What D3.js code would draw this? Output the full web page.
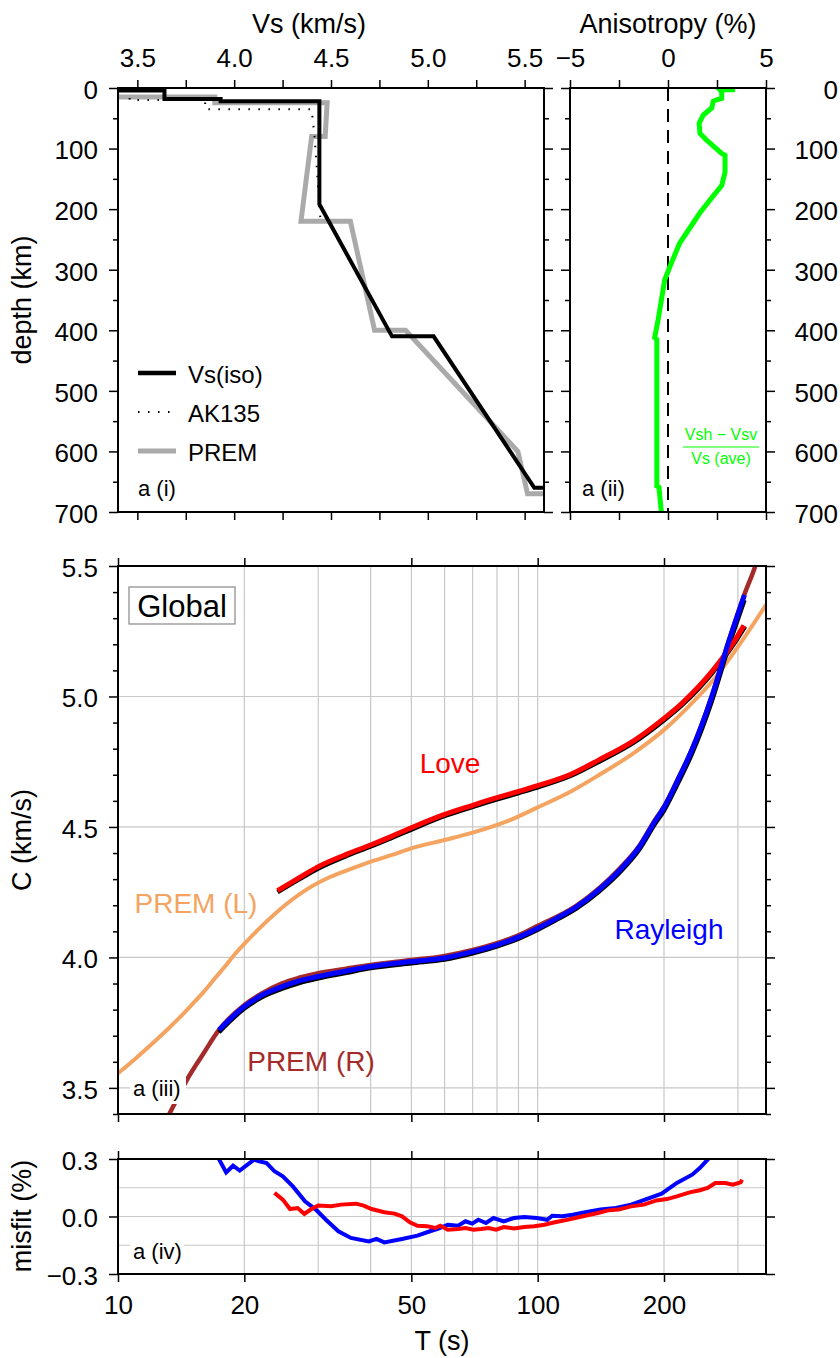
<!DOCTYPE html>
<html>
<head>
<meta charset="utf-8">
<script src="https://cdnjs.cloudflare.com/ajax/libs/d3/7.8.5/d3.min.js"></script>
<style>
  body { margin: 0; background: #fff; }
  svg { display: block; }
  text { font-family: "Liberation Sans", Arial, Helvetica, sans-serif; }
</style>
</head>
<body>
<div id="chart"></div>
<script>
// ---------- data ----------
// a (i): shear velocity profiles, [Vs (km/s), depth (km)]
var vsIso = [[3.30,0],[3.30,4],[3.64,4],[3.64,18],[3.93,18],[3.93,22],[4.44,22],[4.44,192],[4.815,410],[5.03,410],[5.55,660],[5.70,660]];
var ak135 = [[3.46,0],[3.46,20],[3.85,20],[3.85,35],[4.40,35],[4.415,80],[4.445,215]];
var prem  = [[3.20,3],[3.20,15],[3.90,15],[3.90,24.4],[4.48,24.4],[4.47,80],[4.40,80],[4.345,220],[4.60,220],[4.725,400],[4.885,400],[5.465,600],[5.515,670],[5.95,670]];

// a (ii): radial anisotropy, [% , depth (km)]
var aniso = [[3.42,3],[2.65,3],[2.74,6],[2.74,17],[2.48,19.5],[2.31,22],[2.23,33],[1.80,44.5],[1.59,58],[1.63,75],[1.97,86],[2.74,108],[2.91,111],[2.91,139],[2.74,161],[2.31,178],[1.63,206],[0.60,256],[0.17,289],[-0.17,317],[-0.51,384],[-0.68,412],[-0.57,415],[-0.57,657],[-0.46,659],[-0.34,700]];

// a (iii): phase velocity dispersion, [T (s), C (km/s)]
var love = [[24,4.256],[27,4.305],[30,4.348],[35,4.395],[40,4.431],[45,4.465],[50,4.497],[60,4.548],[70,4.583],[80,4.612],[90,4.636],[100,4.658],[120,4.702],[140,4.757],[170,4.832],[200,4.916],[220,4.972],[242,5.038],[260,5.095],[279,5.159],[295,5.215],[310,5.272]];
var loveFit = [[24,4.250],[27,4.299],[30,4.341],[35,4.389],[40,4.425],[45,4.459],[50,4.490],[60,4.542],[70,4.577],[80,4.606],[90,4.630],[100,4.652],[120,4.696],[140,4.750],[170,4.825],[200,4.909],[220,4.965],[242,5.031],[260,5.088],[279,5.152],[295,5.207],[312,5.268]];
var rayleigh = [[17.4,3.722],[20,3.812],[22,3.855],[24.6,3.888],[27,3.910],[30,3.927],[35,3.948],[40,3.965],[50,3.984],[60,3.998],[70,4.022],[80,4.048],[90,4.078],[100,4.112],[110,4.147],[124,4.195],[140,4.260],[157,4.335],[175,4.425],[190,4.520],[200,4.575],[215,4.675],[233,4.795],[260,5.000],[286,5.216],[311,5.389]];
var rayleighFit = [[17.4,3.714],[20,3.804],[22,3.847],[24.6,3.880],[27,3.902],[30,3.920],[35,3.941],[40,3.959],[50,3.978],[60,3.992],[70,4.016],[80,4.042],[90,4.072],[100,4.106],[110,4.141],[124,4.189],[140,4.253],[157,4.327],[175,4.416],[190,4.510],[200,4.563],[215,4.662],[233,4.780],[260,4.983],[286,5.198],[311,5.370]];
var premLove = [[10,3.556],[11,3.612],[12,3.666],[13,3.718],[14,3.768],[15,3.819],[16,3.868],[17,3.919],[18,3.966],[19,4.013],[20,4.052],[22,4.120],[25,4.200],[28,4.258],[32,4.308],[36,4.340],[40,4.367],[45,4.393],[50,4.418],[60,4.450],[70,4.478],[85,4.523],[100,4.575],[120,4.636],[140,4.699],[170,4.785],[200,4.872],[230,4.965],[266,5.076],[300,5.190],[350,5.351]];
var premRayleigh = [[13.25,3.400],[14,3.475],[14.74,3.543],[16,3.633],[17.4,3.722],[20,3.818],[22,3.862],[24.6,3.901],[27,3.922],[30,3.940],[35,3.957],[40,3.971],[50,3.990],[60,4.006],[70,4.029],[80,4.055],[90,4.085],[100,4.121],[124,4.200],[157,4.342],[175,4.430],[190,4.525],[200,4.578],[215,4.678],[233,4.797],[260,5.002],[286,5.218],[311,5.392],[330,5.500],[340,5.570]];

// a (iv): misfit, [T (s), misfit (%)]
var misfitRayleigh = [[17.3,0.31],[18.1,0.23],[18.8,0.265],[19.5,0.24],[20.2,0.265],[21.1,0.297],[21.7,0.288],[22.6,0.279],[23.6,0.236],[24.7,0.21],[26.1,0.157],[27.9,0.079],[29.6,0.036],[31.3,-0.017],[33.5,-0.077],[35.9,-0.112],[39.6,-0.13],[41.3,-0.117],[43.1,-0.135],[47.5,-0.117],[51.7,-0.1],[55.4,-0.077],[57.8,-0.065],[61.1,-0.043],[64.6,-0.048],[67.3,-0.025],[69.8,-0.037],[72.2,-0.017],[75.3,-0.034],[78.5,-0.008],[83,-0.025],[87.8,-0.008],[92.9,-0.003],[99.6,-0.008],[105.4,-0.017],[108.3,0.004],[114.6,0.001],[121.2,0.009],[129.8,0.022],[141.2,0.036],[153.5,0.044],[167,0.062],[181.6,0.091],[197.4,0.119],[214.6,0.175],[233.4,0.218],[243.4,0.253],[254.1,0.297],[260,0.32]];
var misfitLove = [[23.6,0.123],[24.7,0.088],[25.7,0.039],[26.8,0.044],[27.8,0.013],[28.9,0.039],[30,0.057],[32.2,0.053],[34,0.062],[36.9,0.067],[38.5,0.057],[40.2,0.039],[43.1,0.022],[45.6,0.015],[47.5,0.001],[49.6,-0.03],[51.7,-0.048],[54.6,-0.051],[57,-0.06],[58.6,-0.048],[61.1,-0.069],[64.6,-0.065],[67.3,-0.06],[70.3,-0.069],[73.3,-0.065],[76.4,-0.06],[79.6,-0.069],[83,-0.055],[87.8,-0.062],[92.9,-0.055],[98.2,-0.051],[103.8,-0.043],[109.8,-0.03],[116.1,-0.02],[122.8,-0.008],[129.8,0.004],[139.2,0.018],[147.2,0.032],[155.6,0.036],[167,0.053],[179.1,0.062],[191.9,0.084],[203.2,0.091],[214.6,0.105],[230.3,0.126],[243.4,0.137],[254.1,0.149],[265,0.175],[280,0.175],[291.9,0.166],[304.5,0.178],[307,0.192]];

// ticks
var vsTicks = [3.5, 4.0, 4.5, 5.0, 5.5],
    vsMinor = [3.75, 4.25, 4.75, 5.25],
    depthTicks = [0, 100, 200, 300, 400, 500, 600, 700],
    depthMinor = [50, 150, 250, 350, 450, 550, 650],
    anisoTicks = [-5, 0, 5],
    anisoMinor = [-2.5, 2.5],
    periodTicks = [10, 20, 50, 100, 200],
    periodGrid = [20, 30, 40, 50, 60, 70, 80, 90, 100, 200, 300],
    cTicks = [3.5, 4.0, 4.5, 5.0, 5.5],
    cMinor = [3.4, 3.6, 3.7, 3.8, 3.9, 4.1, 4.2, 4.3, 4.4, 4.6, 4.7, 4.8, 4.9, 5.1, 5.2, 5.3, 5.4],
    cGrid = [3.5, 4.0, 4.5, 5.0],
    misfitTicks = [-0.3, 0.0, 0.3],
    misfitGrid = [-0.15, 0.0, 0.15];

// ---------- layout ----------
var width = 840,
    height = 1358;

var fontFamily = "Liberation Sans, Arial, Helvetica, sans-serif",
    tickFont = 26;

var svg = d3.select("#chart")
    .append("svg")
    .attr("width", width)
    .attr("height", height);

// scales
var vsX = d3.scaleLinear().domain([3.4, 5.6]).range([118, 544]),
    depthY = d3.scaleLinear().domain([0, 700]).range([88, 512]),
    anisoX = d3.scaleLinear().domain([-5, 5]).range([570, 766]),
    periodX = d3.scaleLog().domain([10, 350]).range([118, 766]),
    cY = d3.scaleLinear().domain([3.4, 5.5]).range([1114, 566]),
    misfitY = d3.scaleLinear().domain([-0.3, 0.3]).range([1274, 1159]);

// clip paths, one per panel
var defs = svg.append("defs");
function addClip(id, x0, x1, y0, y1) {
    defs.append("clipPath").attr("id", id)
        .append("rect")
        .attr("x", x0).attr("y", y0)
        .attr("width", x1 - x0).attr("height", y1 - y0);
}
addClip("clipVs", vsX.range()[0], vsX.range()[1], depthY.range()[0], depthY.range()[1]);
addClip("clipAniso", anisoX.range()[0], anisoX.range()[1], depthY.range()[0], depthY.range()[1]);
addClip("clipC", periodX.range()[0], periodX.range()[1], cY.range()[1], cY.range()[0]);
addClip("clipMisfit", periodX.range()[0], periodX.range()[1], misfitY.range()[1], misfitY.range()[0]);

// ---------- helpers ----------
function addAxis(axis, tx, ty) {
    var g = svg.append("g")
        .attr("transform", "translate(" + tx + "," + ty + ")")
        .call(axis);
    g.attr("font-family", fontFamily).attr("font-size", tickFont);
    g.select(".domain").remove();
    g.selectAll(".tick line").attr("stroke", "#000").attr("stroke-width", 1.5);
    g.selectAll(".tick text").attr("fill", "#000");
    return g;
}

function noLabel() { return ""; }

function frame(xs, ys) {
    svg.append("rect")
        .attr("x", xs.range()[0])
        .attr("y", Math.min(ys.range()[0], ys.range()[1]))
        .attr("width", xs.range()[1] - xs.range()[0])
        .attr("height", Math.abs(ys.range()[1] - ys.range()[0]))
        .attr("fill", "none")
        .attr("stroke", "#000")
        .attr("stroke-width", 2);
}

function gridLines(xs, ys, xVals, yVals) {
    var g = svg.append("g").attr("class", "grid");
    g.selectAll(".gx").data(xVals).enter().append("line")
        .attr("x1", function(d) { return xs(d); })
        .attr("x2", function(d) { return xs(d); })
        .attr("y1", ys.range()[0])
        .attr("y2", ys.range()[1])
        .attr("stroke", "#c8c8c8").attr("stroke-width", 1.2);
    g.selectAll(".gy").data(yVals).enter().append("line")
        .attr("x1", xs.range()[0])
        .attr("x2", xs.range()[1])
        .attr("y1", function(d) { return ys(d); })
        .attr("y2", function(d) { return ys(d); })
        .attr("stroke", "#c8c8c8").attr("stroke-width", 1.2);
}

function drawLine(data, line, clip, color, w, dash) {
    var p = svg.append("path")
        .datum(data)
        .attr("clip-path", "url(#" + clip + ")")
        .attr("fill", "none")
        .attr("stroke", color)
        .attr("stroke-width", w)
        .attr("d", line);
    if (dash) p.attr("stroke-dasharray", dash);
    return p;
}

function label(txt, x, y, size, color, anchor) {
    return svg.append("text")
        .attr("x", x).attr("y", y)
        .attr("font-size", size)
        .attr("fill", color || "#000")
        .attr("text-anchor", anchor || "start")
        .text(txt);
}

function yTitle(txt, cy) {
    svg.append("text")
        .attr("transform", "translate(31," + cy + ") rotate(-90)")
        .attr("text-anchor", "middle")
        .attr("font-size", 27)
        .text(txt);
}

// line generators
var profileLine = d3.line()
    .x(function(d) { return vsX(d[0]); })
    .y(function(d) { return depthY(d[1]); });
var anisoLine = d3.line()
    .x(function(d) { return anisoX(d[0]); })
    .y(function(d) { return depthY(d[1]); });
var dispLine = d3.line()
    .x(function(d) { return periodX(d[0]); })
    .y(function(d) { return cY(d[1]); })
    .curve(d3.curveMonotoneX);
var misfitLine = d3.line()
    .x(function(d) { return periodX(d[0]); })
    .y(function(d) { return misfitY(d[1]); });

// ---------- a (i) velocity profile ----------
drawLine(prem, profileLine, "clipVs", "#aaaaaa", 5);
drawLine(ak135, profileLine, "clipVs", "#000", 2, "1.5,8.5");
drawLine(vsIso, profileLine, "clipVs", "#000", 4);

// legend
var legendItems = [
    {name: "Vs(iso)", color: "#000", w: 4.5, dash: null},
    {name: "AK135", color: "#000", w: 2, dash: "1.5,8.5"},
    {name: "PREM", color: "#aaaaaa", w: 5, dash: null}
];
var legend = svg.selectAll(".legend")
    .data(legendItems)
    .enter().append("g")
    .attr("class", "legend")
    .attr("transform", function(d, i) { return "translate(138," + (373 + i * 39) + ")"; });
legend.append("line")
    .attr("x1", 0).attr("x2", 38)
    .attr("stroke", function(d) { return d.color; })
    .attr("stroke-width", function(d) { return d.w; })
    .attr("stroke-dasharray", function(d) { return d.dash; });
legend.append("text")
    .attr("x", 50).attr("y", 10)
    .attr("font-size", 24)
    .text(function(d) { return d.name; });

label("a (i)", 138, 496, 22);
frame(vsX, depthY);

addAxis(d3.axisTop(vsX).tickValues(vsTicks).tickSize(8).tickPadding(13).tickFormat(d3.format(".1f")), 0, 88);
addAxis(d3.axisTop(vsX).tickValues(vsMinor).tickSize(8).tickFormat(noLabel), 0, 88);
addAxis(d3.axisBottom(vsX).tickValues(vsTicks.concat(vsMinor)).tickSize(8).tickFormat(noLabel), 0, 512);
addAxis(d3.axisLeft(depthY).tickValues(depthTicks).tickSize(9).tickPadding(11), 118, 0)
    .selectAll(".tick text").attr("dy", "0.4em");
addAxis(d3.axisLeft(depthY).tickValues(depthMinor).tickSize(5).tickFormat(noLabel), 118, 0);
addAxis(d3.axisRight(depthY).tickValues(depthTicks).tickSize(9).tickFormat(noLabel), 544, 0);
addAxis(d3.axisRight(depthY).tickValues(depthMinor).tickSize(5).tickFormat(noLabel), 544, 0);

label("Vs (km/s)", 309, 33, 27, "#000", "middle");
yTitle("depth (km)", 300);

// ---------- a (ii) anisotropy ----------
svg.append("line")
    .attr("x1", anisoX(0)).attr("x2", anisoX(0))
    .attr("y1", depthY(0)).attr("y2", depthY(700))
    .attr("stroke", "#000").attr("stroke-width", 2)
    .attr("stroke-dasharray", "13,8");
drawLine(aniso, anisoLine, "clipAniso", "#00ff00", 5);

// Vsh - Vsv over Vs (ave)
label("Vsh \u2212 Vsv", 721, 440, 16, "#00ff00", "middle");
svg.append("line")
    .attr("x1", 683).attr("x2", 759)
    .attr("y1", 447).attr("y2", 447)
    .attr("stroke", "#00ff00").attr("stroke-width", 1);
label("Vs (ave)", 721, 464, 16, "#00ff00", "middle");

label("a (ii)", 582, 496, 22);
frame(anisoX, depthY);

addAxis(d3.axisTop(anisoX).tickValues(anisoTicks).tickSize(8).tickPadding(13).tickFormat(d3.format("d")), 0, 88);
addAxis(d3.axisTop(anisoX).tickValues(anisoMinor).tickSize(8).tickFormat(noLabel), 0, 88);
addAxis(d3.axisBottom(anisoX).tickValues(anisoTicks.concat(anisoMinor)).tickSize(8).tickFormat(noLabel), 0, 512);
addAxis(d3.axisLeft(depthY).tickValues(depthTicks).tickSize(9).tickFormat(noLabel), 570, 0);
addAxis(d3.axisLeft(depthY).tickValues(depthMinor).tickSize(5).tickFormat(noLabel), 570, 0);
var anisoRight = addAxis(d3.axisRight(depthY).tickValues(depthTicks).tickSize(9), 766, 0);
anisoRight.selectAll(".tick text")
    .attr("x", 838 - 766)
    .attr("text-anchor", "end")
    .attr("dy", "0.4em");
addAxis(d3.axisRight(depthY).tickValues(depthMinor).tickSize(5).tickFormat(noLabel), 766, 0);

label("Anisotropy (%)", 668, 33, 27, "#000", "middle");

// ---------- a (iii) dispersion ----------
gridLines(periodX, cY, periodGrid, cGrid);

drawLine(premLove, dispLine, "clipC", "#f4a460", 4);
drawLine(premRayleigh, dispLine, "clipC", "#a52a2a", 4.5);
drawLine(loveFit, dispLine, "clipC", "#000", 4.5);
drawLine(rayleighFit, dispLine, "clipC", "#000", 4.5);
drawLine(love, dispLine, "clipC", "#ff0000", 5);
drawLine(rayleigh, dispLine, "clipC", "#0000ff", 5);

label("Love", 450, 773, 28, "#ff0000", "middle");
label("Rayleigh", 669, 939, 28, "#0000ff", "middle");
label("PREM (L)", 196, 913, 28, "#f4a460", "middle");
label("PREM (R)", 311, 1071, 28, "#a52a2a", "middle");

// Global box
svg.append("rect")
    .attr("x", 129).attr("y", 587)
    .attr("width", 106).attr("height", 37)
    .attr("fill", "#fff")
    .attr("stroke", "#888").attr("stroke-width", 1.2);
label("Global", 182, 617, 31, "#000", "middle");

// a (iii) tag on white
svg.append("rect").attr("x", 130).attr("y", 1077).attr("width", 56).attr("height", 27).attr("fill", "#fff");
label("a (iii)", 133, 1096, 22);

frame(periodX, cY);

addAxis(d3.axisTop(periodX).tickValues(periodTicks).tickSize(8).tickFormat(noLabel), 0, 566);
addAxis(d3.axisBottom(periodX).tickValues(periodTicks).tickSize(8).tickFormat(noLabel), 0, 1114);
addAxis(d3.axisLeft(cY).tickValues(cTicks).tickSize(9).tickPadding(11).tickFormat(d3.format(".1f")), 118, 0)
    .selectAll(".tick text").attr("dy", "0.4em");
addAxis(d3.axisLeft(cY).tickValues(cMinor).tickSize(5).tickFormat(noLabel), 118, 0);
addAxis(d3.axisRight(cY).tickValues(cTicks).tickSize(9).tickFormat(noLabel), 766, 0);
addAxis(d3.axisRight(cY).tickValues(cMinor).tickSize(5).tickFormat(noLabel), 766, 0);

yTitle("C (km/s)", 840);

// ---------- a (iv) misfit ----------
gridLines(periodX, misfitY, periodGrid, misfitGrid);

drawLine(misfitRayleigh, misfitLine, "clipMisfit", "#0000ff", 4);
drawLine(misfitLove, misfitLine, "clipMisfit", "#ff0000", 4);

svg.append("rect").attr("x", 130).attr("y", 1240).attr("width", 54).attr("height", 26).attr("fill", "#fff");
label("a (iv)", 133, 1259, 22);

frame(periodX, misfitY);

addAxis(d3.axisTop(periodX).tickValues(periodTicks).tickSize(8).tickFormat(noLabel), 0, 1159);
addAxis(d3.axisBottom(periodX).tickValues(periodTicks).tickSize(8).tickPadding(14).tickFormat(d3.format("d")), 0, 1274);
addAxis(d3.axisLeft(misfitY).tickValues(misfitTicks).tickSize(9).tickPadding(11).tickFormat(d3.format(".1f")), 118, 0)
    .selectAll(".tick text").attr("dy", "0.4em");
addAxis(d3.axisRight(misfitY).tickValues(misfitTicks).tickSize(9).tickFormat(noLabel), 766, 0);

yTitle("misfit (%)", 1216);
label("T (s)", 442, 1350, 27, "#000", "middle");
</script>
</body>
</html>
